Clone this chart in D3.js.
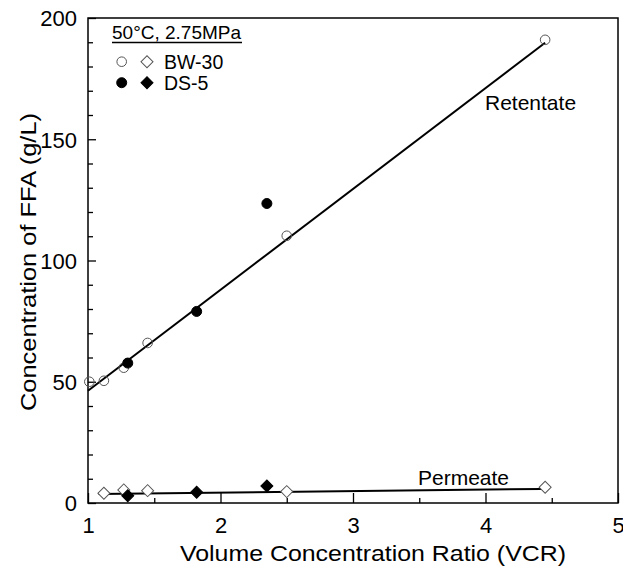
<!DOCTYPE html>
<html>
<head>
<meta charset="utf-8">
<script src="https://cdn.jsdelivr.net/npm/d3@7"></script>
<style>
  body { margin: 0; background: #fff; }
  svg text { font-family: "Liberation Sans", Arial, Helvetica, sans-serif; fill: #000; }
</style>
</head>
<body>
<svg id="chart" width="623" height="567"></svg>
<script>
// values
var bwVcr = [1.01, 1.12, 1.27, 1.45, 2.5, 4.45]
var bwRetentate = [50, 50.4, 55.8, 66, 110.2, 191]
var bwPermeate = [null, 4.0, 5.4, 5.1, 4.7, 6.5]
var dsVcr = [1.30, 1.82, 2.35]
var dsRetentate = [57.7, 79, 123.5]
var dsPermeate = [3.0, 4.4, 7.0]
// straight-line fits drawn in the figure: [intercept, slope, x from, x to]
var retentateFit = [4.7, 41.6, 1.0, 4.45]
var permeateFit = [3.03, 0.63, 1.08, 4.42]
var xTicks = [1, 2, 3, 4, 5]
var xMinor = [1.5, 2.5, 3.5, 4.5]
var yTicks = [0, 50, 100, 150, 200]
var yMinor = [10, 20, 30, 40, 60, 70, 80, 90, 110, 120, 130, 140, 160, 170, 180, 190]

var svg = d3.select("#chart")
var mLeft = 88, mRight = 618, mTop = 18, mBottom = 503

var x = d3.scaleLinear().domain([1, 5]).range([mLeft, mRight])
var y = d3.scaleLinear().domain([0, 200]).range([mBottom, mTop])

// ticks point inward
var gx = svg.append("g").attr("transform", "translate(0," + mBottom + ")")
gx.call(d3.axisBottom(x).tickValues(xTicks).tickSize(-10).tickSizeOuter(0).tickPadding(14).tickFormat(d3.format("d")))
gx.append("g").call(d3.axisBottom(x).tickValues(xMinor).tickSize(-5).tickSizeOuter(0).tickFormat(""))
var gy = svg.append("g").attr("transform", "translate(" + mLeft + ",0)")
gy.call(d3.axisLeft(y).tickValues(yTicks).tickSize(-8).tickSizeOuter(0).tickPadding(11))
gy.append("g").call(d3.axisLeft(y).tickValues(yMinor).tickSize(-5).tickSizeOuter(0).tickFormat(""))
svg.selectAll(".domain").remove()
svg.selectAll(".tick line").attr("stroke", "#000").attr("stroke-width", 1.3)
svg.selectAll(".tick text").attr("font-size", 22).style("font-family", "Liberation Sans, Arial, sans-serif")
gy.selectAll(".tick text").attr("dy", "0.36em")

svg.append("rect")
  .attr("x", mLeft).attr("y", mTop)
  .attr("width", mRight - mLeft).attr("height", mBottom - mTop)
  .attr("fill", "none").attr("stroke", "#000").attr("stroke-width", 1.5)

// fit lines
var line = d3.line().x(function(d) { return x(d[0]) }).y(function(d) { return y(d[1]) })
;[retentateFit, permeateFit].forEach(function(f) {
  var pts = [[f[2], f[0] + f[1] * f[2]], [f[3], f[0] + f[1] * f[3]]]
  svg.append("path").attr("d", line(pts))
    .attr("fill", "none").attr("stroke", "#000").attr("stroke-width", 2)
})

var diamond = d3.symbol().type(d3.symbolSquare).size(72)

function circles(xs, ys, filled) {
  svg.append("g").selectAll("circle")
    .data(xs.map(function(v, i) { return [v, ys[i]] }).filter(function(d) { return d[1] != null }))
    .join("circle")
    .attr("cx", function(d) { return x(d[0]) })
    .attr("cy", function(d) { return y(d[1]) })
    .attr("r", filled ? 5 : 4.8)
    .attr("fill", filled ? "#000" : "#fff")
    .attr("fill-opacity", filled ? 1 : 0)
    .attr("stroke", filled ? "#000" : "#555")
    .attr("stroke-width", 1)
}
function diamonds(xs, ys, filled) {
  svg.append("g").selectAll("path")
    .data(xs.map(function(v, i) { return [v, ys[i]] }).filter(function(d) { return d[1] != null }))
    .join("path")
    .attr("d", diamond)
    .attr("transform", function(d) { return "translate(" + x(d[0]) + "," + y(d[1]) + ") rotate(45)" })
    .attr("fill", filled ? "#000" : "#fff")
    .attr("stroke", filled ? "#000" : "#555")
    .attr("stroke-width", 1)
}
circles(bwVcr, bwRetentate, false)
circles(dsVcr, dsRetentate, true)
diamonds(bwVcr, bwPermeate, false)
diamonds(dsVcr, dsPermeate, true)

// labels
svg.append("text").attr("x", 485).attr("y", 110).attr("font-size", 21).text("Retentate")
svg.append("text").attr("x", 418).attr("y", 485).attr("font-size", 21).text("Permeate")

// the original lettering is a little wider than Liberation Sans
svg.append("text").attr("x", 180).attr("y", 561).attr("font-size", 22)
  .attr("textLength", 386).attr("lengthAdjust", "spacingAndGlyphs")
  .text("Volume Concentration Ratio (VCR)")
svg.append("text").attr("transform", "translate(36,411) rotate(-90)")
  .attr("font-size", 22)
  .attr("textLength", 298).attr("lengthAdjust", "spacingAndGlyphs")
  .text("Concentration of FFA (g/L)")

// legend
var lg = svg.append("g")
lg.append("text").attr("x", 112).attr("y", 39).attr("font-size", 19).text("50°C, 2.75MPa")
lg.append("line").attr("x1", 112).attr("x2", 242).attr("y1", 42.5).attr("y2", 42.5)
  .attr("stroke", "#000").attr("stroke-width", 1.3)
var rows = [["BW-30", false, 61.7], ["DS-5", true, 82.7]]
rows.forEach(function(r) {
  lg.append("circle").attr("cx", 121.7).attr("cy", r[2]).attr("r", r[1] ? 5 : 4.8)
    .attr("fill", r[1] ? "#000" : "#fff").attr("stroke", r[1] ? "#000" : "#555")
  lg.append("path").attr("d", diamond)
    .attr("transform", "translate(147," + r[2] + ") rotate(45)")
    .attr("fill", r[1] ? "#000" : "#fff").attr("stroke", r[1] ? "#000" : "#555")
  lg.append("text").attr("x", 164).attr("y", r[2] + 7).attr("font-size", 19.5).text(r[0])
})
</script>
</body>
</html>
